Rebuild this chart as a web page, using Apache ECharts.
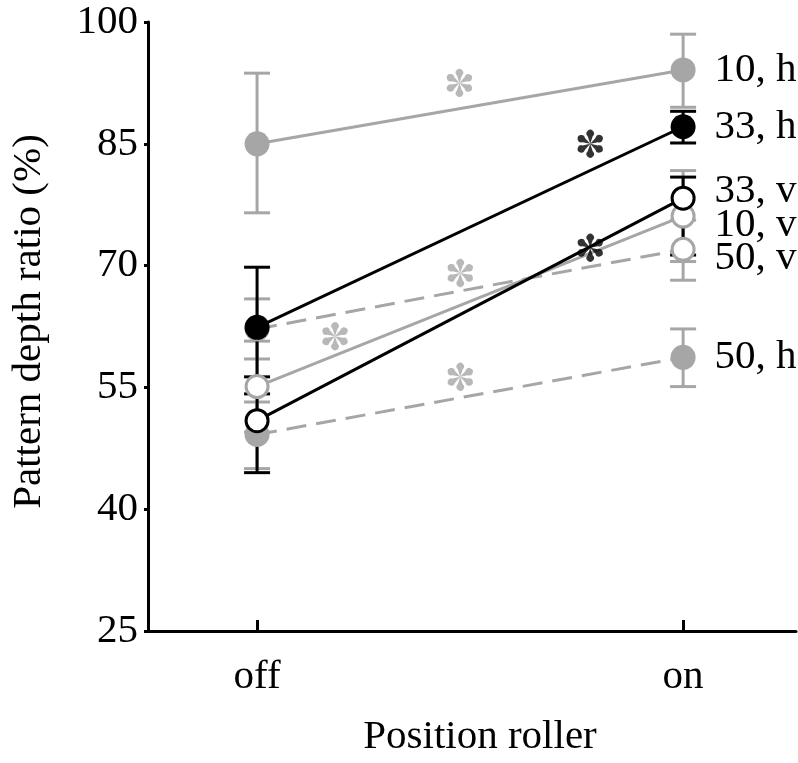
<!DOCTYPE html>
<html>
<head>
<meta charset="utf-8">
<script src="https://cdn.jsdelivr.net/npm/echarts@6/dist/echarts.min.js"></script>
<style>
  html, body { margin: 0; padding: 0; background: #fff; }
  #chart { width: 798px; height: 763px; }
</style>
</head>
<body>
<div id="chart"></div>
<script>
// categories on the x axis (placed at 0 and 1)
const categories = ["off", "on"];
const categoryPos = [0, 1];
const yTicks = [25, 40, 55, 70, 85, 100];

// group means (off, on)
const mean10h = [85.0, 94.1];
const mean33h = [62.4, 87.1];
const mean33v = [50.9, 78.3];
const mean10v = [55.1, 76.1];
const mean50v = [62.2, 72.0];
const mean50h = [49.2, 58.7];

// error bar bounds [low, high] for off / on
const err10h = [[76.5, 93.7], [89.5, 98.5]];
const err33h = [[54.2, 69.8], [85.1, 89.0]];
const err33v = [[44.5, 56.3], [71.3, 80.9]];
const err10v = [[49.5, 60.7], [70.5, 81.7]];
const err50v = [[58.5, 65.9], [68.2, 75.6]];
const err50h = [[45.0, 53.2], [55.1, 62.2]];

// significance asterisks
const starX = [0.475, 0.782, 0.782, 0.477, 0.183, 0.477];
const starY = [92.5, 85.0, 72.2, 69.1, 61.3, 56.3];
const starDark = [false, true, true, false, false, false];

const GRAY = "#a6a6a6";
const BLACK = "#000";
const FONT = "'Liberation Serif', 'Times New Roman', serif";

// six-petal asterisk shape
const asteriskPath = (() => {
  let d = "";
  for (let k = 0; k < 6; k++) {
    const a = (k * 60 * Math.PI) / 180;
    const rot = (x, y) => [x * Math.cos(a) - y * Math.sin(a), x * Math.sin(a) + y * Math.cos(a)];
    const p1 = rot(-2, 6);
    const p2 = rot(2, 6);
    d += `M0 0 L${p1[0].toFixed(3)} ${p1[1].toFixed(3)} A3 3 0 1 0 ${p2[0].toFixed(3)} ${p2[1].toFixed(3)} Z `;
  }
  return "path://" + d;
})();

const chart = echarts.init(document.getElementById("chart"));

// error bars: vertical line + two caps
const errorSeries = (bounds, color, z) => ({
  type: "custom",
  z: z,
  silent: true,
  data: bounds.map((b, i) => [categoryPos[i], b[0], b[1]]),
  encode: { x: 0, y: [1, 2] },
  renderItem: (params, api) => {
    const x = api.value(0);
    const lo = api.coord([x, api.value(1)]);
    const hi = api.coord([x, api.value(2)]);
    const hw = 13;
    const style = { stroke: color, lineWidth: 3, fill: null };
    return {
      type: "group",
      children: [
        { type: "line", shape: { x1: lo[0], y1: lo[1], x2: hi[0], y2: hi[1] }, style },
        { type: "line", shape: { x1: lo[0] - hw, y1: lo[1], x2: lo[0] + hw, y2: lo[1] }, style },
        { type: "line", shape: { x1: hi[0] - hw, y1: hi[1], x2: hi[0] + hw, y2: hi[1] }, style },
      ],
    };
  },
});

const lineSeries = (name, means, color, open, dashed, labelDy, z) => ({
  type: "line",
  name: name,
  z: z,
  symbol: "circle",
  symbolSize: open ? 22 : 25,
  lineStyle: { color: color, width: 3, type: dashed ? [20, 10] : "solid" },
  itemStyle: open
    ? { color: "#fff", borderColor: color, borderWidth: 3 }
    : { color: color, borderWidth: 0 },
  data: means.map((v, i) => ({
    value: [categoryPos[i], v],
    label: {
      show: i === 1,
      formatter: name,
      position: "right",
      distance: 19,
      offset: [0, labelDy],
      color: BLACK,
      fontFamily: FONT,
      fontSize: 41,
    },
  })),
});

const option = {
  animation: false,
  grid: { left: 148, right: 2, top: 22, bottom: 126, containLabel: false },
  xAxis: {
    type: "value",
    min: -0.256,
    max: 1.265,
    splitLine: { show: false },
    axisLine: { show: true, onZero: false, lineStyle: { color: BLACK, width: 3 } },
    axisTick: { show: true, inside: true, length: 11, customValues: categoryPos, lineStyle: { width: 3, color: BLACK } },
    axisLabel: {
      customValues: categoryPos,
      formatter: (v) => categories[Math.round(v)],
      color: BLACK,
      fontFamily: FONT,
      fontSize: 41,
      margin: 26,
    },
    name: "Position roller",
    nameLocation: "middle",
    nameGap: 86,
    nameTextStyle: { color: BLACK, fontFamily: FONT, fontSize: 41, padding: [0, 0, 0, 16] },
  },
  yAxis: {
    type: "value",
    min: 25,
    max: 100,
    splitLine: { show: false },
    axisLine: { show: true, onZero: false, lineStyle: { color: BLACK, width: 3 } },
    axisTick: { show: true, inside: false, length: 4, customValues: yTicks, lineStyle: { width: 3, color: BLACK } },
    axisLabel: {
      customValues: yTicks,
      color: BLACK,
      fontFamily: FONT,
      fontSize: 41,
      margin: 10,
    },
    name: "Pattern depth ratio (%)",
    nameLocation: "middle",
    nameGap: 98,
    nameTextStyle: { color: BLACK, fontFamily: FONT, fontSize: 41, padding: [0, 0, 0, 10] },
  },
  series: [
    errorSeries(err10h, GRAY, 1),
    errorSeries(err10v, GRAY, 1),
    errorSeries(err50v, GRAY, 1),
    errorSeries(err50h, GRAY, 1),
    errorSeries(err33h, BLACK, 2),
    errorSeries(err33v, BLACK, 2),
    lineSeries("10, h", mean10h, GRAY, false, false, 0, 3),
    lineSeries("10, v", mean10v, GRAY, true, false, 9, 3),
    lineSeries("50, v", mean50v, GRAY, true, true, 9, 3),
    lineSeries("50, h", mean50h, GRAY, false, true, 0, 3),
    lineSeries("33, h", mean33h, BLACK, false, false, 0, 4),
    lineSeries("33, v", mean33v, BLACK, true, false, -7, 4),
    {
      type: "scatter",
      z: 5,
      silent: true,
      symbol: asteriskPath,
      symbolKeepAspect: true,
      symbolSize: 28,
      data: starX.map((x, i) => ({
        value: [x, starY[i]],
        itemStyle: { color: starDark[i] ? BLACK : GRAY },
      })),
    },
  ],
};

chart.setOption(option);
</script>
</body>
</html>
